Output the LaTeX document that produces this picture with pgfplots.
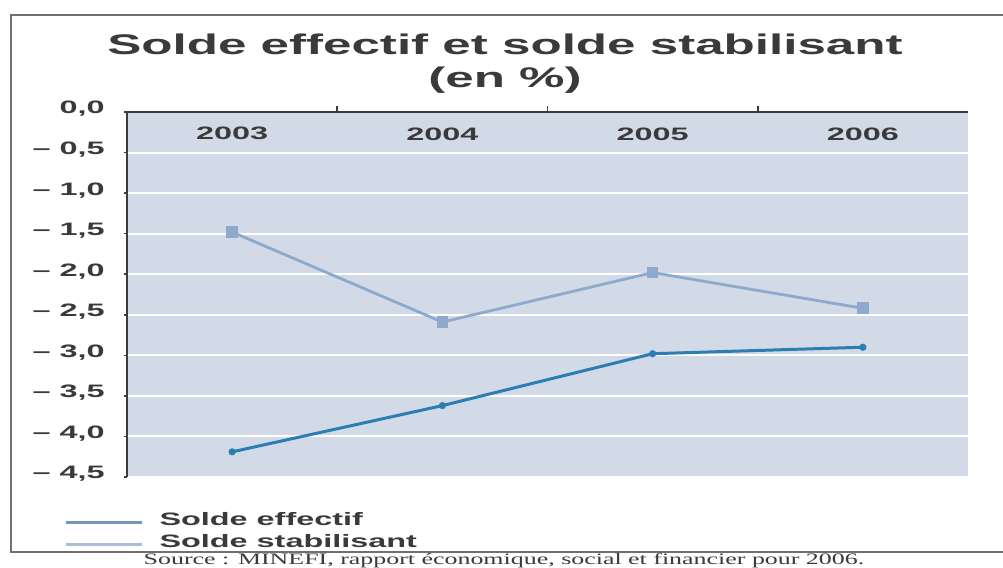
\documentclass[border=0pt]{standalone}
\usepackage{fontspec}
\setmainfont{Liberation Sans}[FakeStretch=1.8]
\newfontfamily\srcfont{Liberation Serif}[FakeStretch=1.62]
\usepackage{pgfplots}
\pgfplotsset{compat=1.18}

\definecolor{bgblue}{HTML}{D3DAE7}
\definecolor{effectif}{HTML}{2B7EB1}
\definecolor{stabil}{HTML}{8DA9CC}
\definecolor{legone}{HTML}{7496BC}
\definecolor{legtwo}{HTML}{A9BED9}
\definecolor{axisgray}{HTML}{3C3C3C}
\definecolor{labelgray}{HTML}{3A3A3A}
\definecolor{framegray}{HTML}{707070}

\begin{document}
\begin{tikzpicture}[x=0.5pt,y=-0.5pt]
\path[use as bounding box] (0,0) rectangle (1003,568);
\draw[framegray, line width=1.1pt] (11,15) rectangle (1020,552);

\node[anchor=base, text=labelgray, font=\bfseries\fontsize{14.2}{17}\selectfont] at (505,54) {Solde effectif et solde stabilisant};
\node[anchor=base, text=labelgray, font=\bfseries\fontsize{14.2}{17}\selectfont] at (505,87) {(en \%)};

\begin{axis}[
  at={(63.5pt,-56pt)}, anchor=north west,
  scale only axis, width=420.5pt, height=182.5pt,
  xmin=-0.5, xmax=3.5, ymin=-4.5, ymax=0,
  axis x line*=top, axis y line*=left,
  axis line style={draw=axisgray, line width=1.2pt},
  axis background/.style={fill=bgblue},
  tick align=outside, major tick length=1.6pt,
  tick style={draw=axisgray, line width=0.8pt},
  xtick={0,1,2,3},
  xticklabels={2003,2004,2005,2006},
  xtick style={draw=none},
  xticklabel style={anchor=center, yshift=-12.5pt},
  extra x ticks={0.5,1.5,2.5},
  extra x tick labels={},
  extra x tick style={xtick style={draw=axisgray}, major tick length=3pt},
  ytick={-4.5,-4,-3.5,-3,-2.5,-2,-1.5,-1,-0.5,0},
  yticklabels={{– 4,5},{– 4,0},{– 3,5},{– 3,0},{– 2,5},{– 2,0},{– 1,5},{– 1,0},{– 0,5},{0,0}},
  yticklabel style={yshift=1.5pt, xshift=-6pt},
  ticklabel style={font=\bfseries\fontsize{9}{10}\selectfont, text=labelgray},
  ymajorgrids, grid style={white, line width=1pt},
  legend style={at={(axis description cs:-0.075,-0.09)}, anchor=north west,
    draw=none, fill=none, inner sep=0pt, row sep=1pt,
    font=\bfseries\fontsize{9}{10}\selectfont, text=labelgray,
    nodes={inner sep=1pt},
    /tikz/every odd column/.append style={column sep=7pt}},
  legend cell align=left,
  legend image code/.code={\draw[#1] (0pt,-1pt) -- (38pt,-1pt);},
]
\addplot[color=stabil, line width=1.4pt, mark=square*, mark size=2.2pt, forget plot]
  coordinates {(0,-1.48) (1,-2.59) (2,-1.98) (3,-2.42)};
\addplot[color=effectif, line width=1.5pt, mark=*, mark size=1pt, forget plot]
  coordinates {(0,-4.19) (1,-3.62) (2,-2.98) (3,-2.90)};
\addlegendimage{legone, line width=1.6pt}
\addlegendentry{Solde effectif}
\addlegendimage{legtwo, line width=1.6pt}
\addlegendentry{Solde stabilisant}
\end{axis}

\node[anchor=base, text=labelgray, font=\srcfont\fontsize{8}{10}\selectfont] at (504,564.5) {Source : MINEFI, rapport économique, social et financier pour 2006.};
\end{tikzpicture}
\end{document}
